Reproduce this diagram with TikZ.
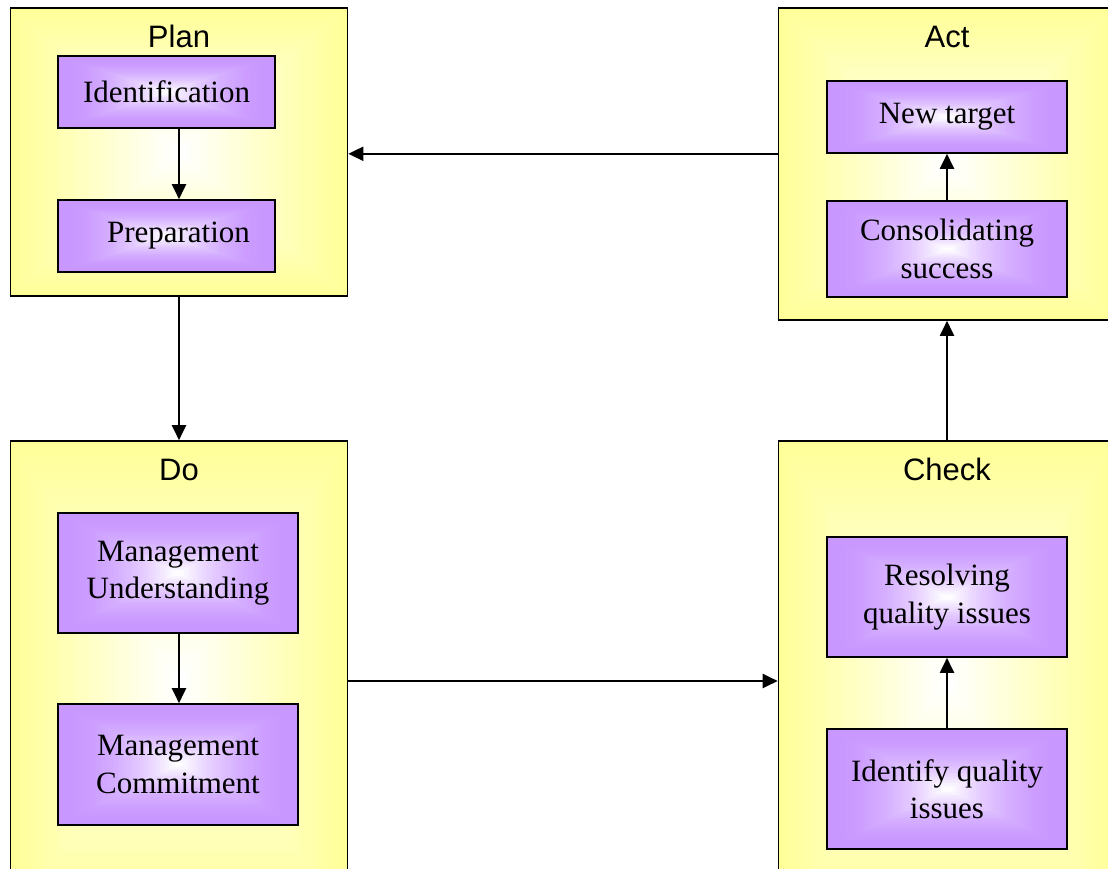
\documentclass[tikz,border=0pt]{standalone}
\usepackage{fontspec}
\setmainfont{Liberation Serif}
\newfontfamily\labelfont{Liberation Sans}
\usetikzlibrary{arrows.meta,calc}
\definecolor{yellowc}{HTML}{FFFF99}
\definecolor{purplec}{HTML}{C896FF}
\newcommand\rectgrad[3]{% color, steps, exponent
  \foreach \i in {0,...,#2}{%
    \pgfmathsetmacro\h{0.5*\i/(#2+1)}%
    \pgfmathtruncatemacro\p{100-100*(\i/#2)^#3}%
    \fill[#1!\p!white] ($(path picture bounding box.south west)!\h!(path picture bounding box.north east)$) rectangle ($(path picture bounding box.north east)!\h!(path picture bounding box.south west)$);
  }}
\tikzset{
  phase/.style={draw=black, line width=1.6pt, rectangle, inner sep=0pt,
    minimum width=337pt, path picture={\rectgrad{yellowc}{40}{1.1}}},
  taskbox/.style={draw=black, line width=1.6pt, rectangle, inner sep=0pt,
    minimum width=#1, align=center, font=\fontsize{31}{37.5}\selectfont,
    path picture={\rectgrad{purplec}{40}{2}}},
  taskbox/.default=240pt,
  phaselabel/.style={anchor=base, inner sep=0pt, font=\labelfont\fontsize{31}{37}\selectfont},
  arr/.style={line width=2pt, -{Triangle[length=15pt,width=14pt]}},
}
\begin{document}
\begin{tikzpicture}[x=1pt,y=-1pt]
\useasboundingbox (0,0) rectangle (1108,869);
\clip (0,0) rectangle (1108,869);
\fill[white] (0,0) rectangle (1108,869);
% outer phase boxes
\node[phase, minimum height=288pt] (plan) at (179,152) {};
\node[phase, minimum height=312pt] (act) at (947,164) {};
\node[phase, minimum height=480pt] (do) at (179,681) {};
\node[phase, minimum height=480pt] (check) at (947,681) {};
% labels
\node[phaselabel] (planl) at (179,48) {Plan};
\node[phaselabel] (actl) at (947,48) {Act};
\node[phaselabel] (dol) at (179,480) {Do};
\node[phaselabel] (checkl) at (947,480) {Check};
% inner boxes
\node[taskbox=217pt, minimum height=72pt] (ident) at (166.5,92) {Identification};
\node[taskbox=217pt, minimum height=72pt] (prep) at (166.5,236) {\hspace*{24pt}Preparation};
\node[taskbox, minimum height=120pt] (mu) at (178,573) {Management\\Understanding};
\node[taskbox, minimum height=121pt] (mc) at (178,764.5) {Management\\Commitment};
\node[taskbox, minimum height=72pt] (nt) at (947,117) {New target};
\node[taskbox, minimum height=96pt] (cs) at (947,249) {Consolidating\\success};
\node[taskbox, minimum height=120pt] (rq) at (947,597) {Resolving\\quality issues};
\node[taskbox, minimum height=120pt] (iq) at (947,789) {Identify quality\\issues};
% connectors
\draw[arr] (ident.south -| plan.south) -- (prep.north -| plan.south);
\draw[arr] (mu.south -| plan.south) -- (mc.north -| plan.south);
\draw[arr] (cs.north) -- (nt.south);
\draw[arr] (iq.north) -- (rq.south);
\draw[arr] (plan.south) -- (do.north);
\draw[arr] (do.east) -- (check.west);
\draw[arr] (check.north) -- (act.south);
\draw[arr] (act.west |- nt.south) -- (plan.east |- nt.south);
\end{tikzpicture}
\end{document}
